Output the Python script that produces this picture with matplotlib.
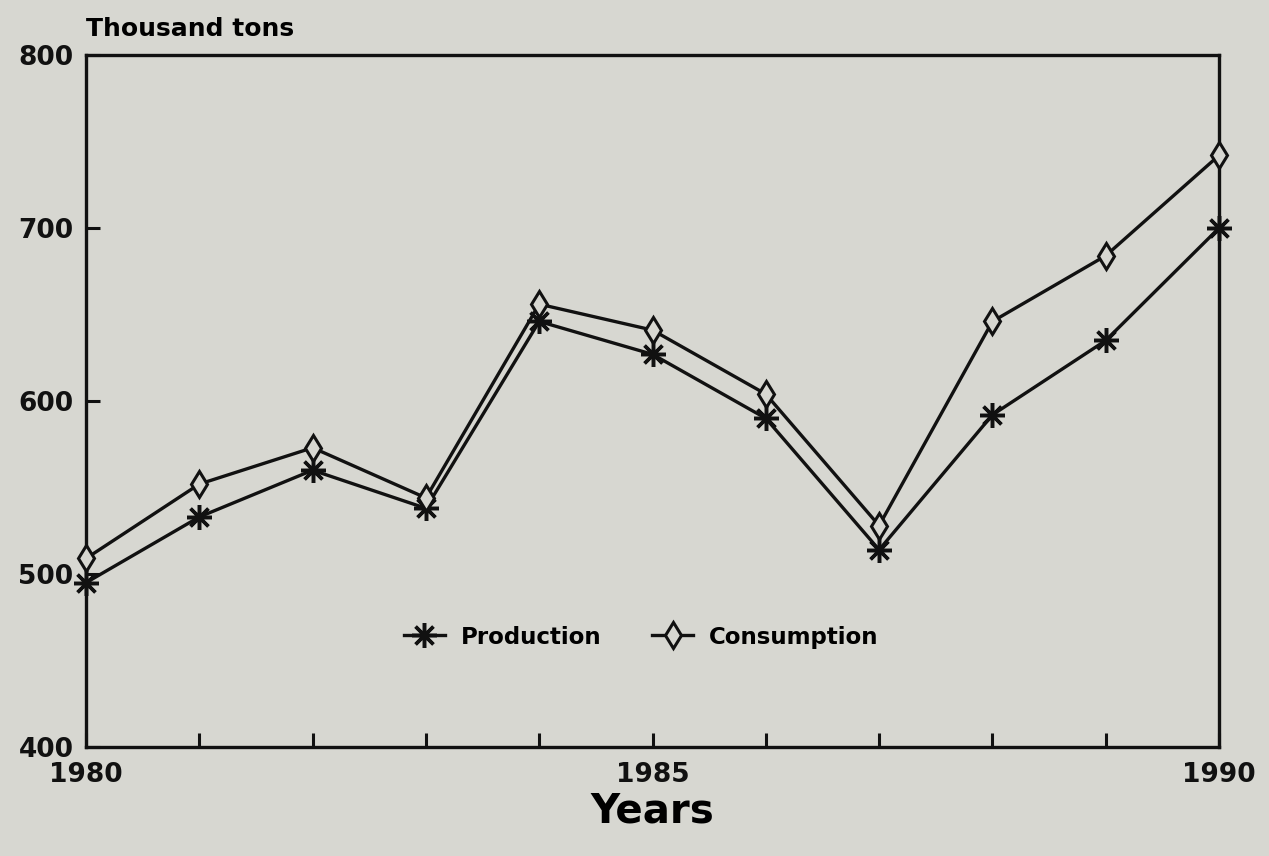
#!/usr/bin/env python3
import matplotlib
matplotlib.use('Agg')
import matplotlib.pyplot as plt

# data
years = [1980, 1981, 1982, 1983, 1984, 1985, 1986, 1987, 1988, 1989, 1990]
production = [495, 533, 560, 538, 646, 627, 590, 514, 592, 635, 700]
consumption = [509, 552, 573, 544, 656, 641, 604, 528, 646, 684, 742]

xtick_labels = ['1980', '', '', '', '', '1985', '', '', '', '', '1990']
yticks = [400, 500, 600, 700, 800]

BG = '#d7d7d1'
INK = '#111111'

plt.rcParams['font.family'] = ['DejaVu Sans']
plt.rcParams['font.weight'] = 'bold'


def production_consumption():
    fig = plt.figure(figsize=(12.69, 8.56), dpi=100, facecolor=BG)
    ax = fig.add_axes([0.0678, 0.1273, 0.8928, 0.8084])
    ax.set_facecolor(BG)

    ax.plot(years, production, color=INK, lw=2.4, marker=(8, 2, 0),
            markersize=18, markeredgewidth=2.5, label='Production',
            zorder=3, clip_on=False)
    ax.plot(years, consumption, color=INK, lw=2.4, marker='d',
            markersize=13, markeredgewidth=2.2, markerfacecolor=BG,
            markeredgecolor=INK, label='Consumption', zorder=3,
            clip_on=False)

    ax.set_xlim(1980, 1990)
    ax.set_ylim(400, 800)
    ax.set_xticks(years)
    ax.set_xticklabels(xtick_labels)
    ax.set_yticks(yticks)

    for sp in ax.spines.values():
        sp.set_linewidth(2.4)
        sp.set_color(INK)
    ax.tick_params(axis='both', direction='in', length=10, width=2.2,
                   colors=INK, labelsize=19)
    ax.tick_params(axis='x', pad=11)
    ax.tick_params(axis='y', pad=9)
    for lab in ax.get_xticklabels() + ax.get_yticklabels():
        lab.set_fontweight('bold')
    ax.get_yticklabels()[0].set_verticalalignment('center_baseline')

    ax.set_xlabel('Years', fontsize=29, fontweight='bold', labelpad=2)
    ax.text(0.0, 1.02, 'Thousand tons', transform=ax.transAxes,
            fontsize=18, fontweight='bold', ha='left', va='bottom')

    ax.legend(loc='center', bbox_to_anchor=(0.49, 0.159), ncol=2,
              frameon=False, handlelength=1.8,
              handletextpad=0.7, columnspacing=2.2,
              prop={'weight': 'bold', 'size': 16.5})

    fig.savefig('out.png', dpi=100, facecolor=BG)


production_consumption()
